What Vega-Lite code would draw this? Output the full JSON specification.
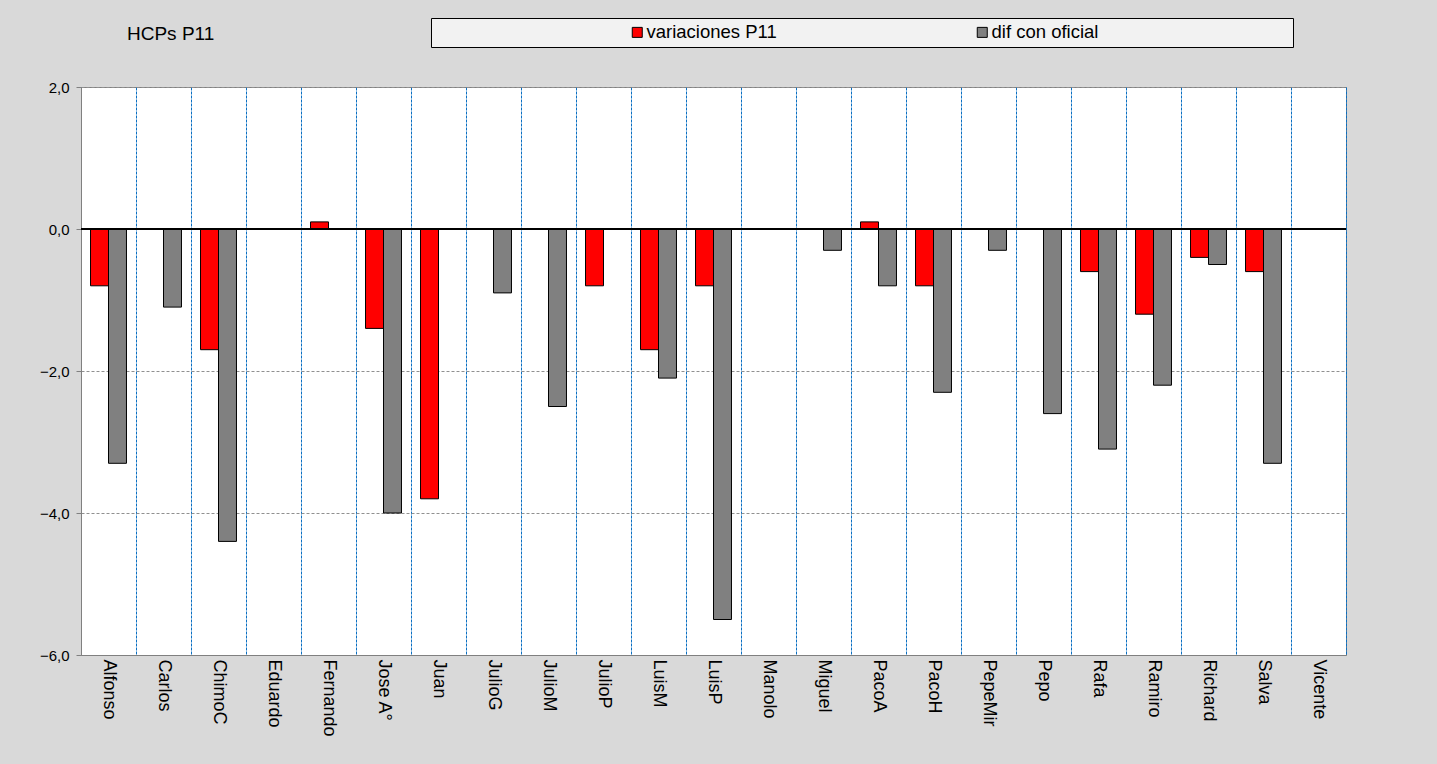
{
  "$schema": "https://vega.github.io/schema/vega-lite/v6.json",
  "width": 1265,
  "height": 568,
  "autosize": {"type": "none"},
  "padding": {"left": 81, "top": 87, "right": 91, "bottom": 109},
  "background": "#d9d9d9",
  "config": {
    "font": "Liberation Sans",
    "view": {"fill": "white", "stroke": "#808080", "strokeWidth": 1}
  },
  "title": {
    "text": "HCPs P11",
    "anchor": "start",
    "frame": "group",
    "dx": 46,
    "offset": -41,
    "baseline": "alphabetic",
    "fontSize": 19,
    "fontWeight": "normal",
    "color": "black",
    "font": "Liberation Sans"
  },
  "data": {
    "values": [
      {"nombre": "Alfonso", "serie": "variaciones P11", "valor": -0.8},
      {"nombre": "Alfonso", "serie": "dif con oficial", "valor": -3.3},
      {"nombre": "Carlos", "serie": "dif con oficial", "valor": -1.1},
      {"nombre": "ChimoC", "serie": "variaciones P11", "valor": -1.7},
      {"nombre": "ChimoC", "serie": "dif con oficial", "valor": -4.4},
      {"nombre": "Fernando", "serie": "variaciones P11", "valor": 0.1},
      {"nombre": "Jose A°", "serie": "variaciones P11", "valor": -1.4},
      {"nombre": "Jose A°", "serie": "dif con oficial", "valor": -4.0},
      {"nombre": "Juan", "serie": "variaciones P11", "valor": -3.8},
      {"nombre": "JulioG", "serie": "dif con oficial", "valor": -0.9},
      {"nombre": "JulioM", "serie": "dif con oficial", "valor": -2.5},
      {"nombre": "JulioP", "serie": "variaciones P11", "valor": -0.8},
      {"nombre": "LuisM", "serie": "variaciones P11", "valor": -1.7},
      {"nombre": "LuisM", "serie": "dif con oficial", "valor": -2.1},
      {"nombre": "LuisP", "serie": "variaciones P11", "valor": -0.8},
      {"nombre": "LuisP", "serie": "dif con oficial", "valor": -5.5},
      {"nombre": "Miguel", "serie": "dif con oficial", "valor": -0.3},
      {"nombre": "PacoA", "serie": "variaciones P11", "valor": 0.1},
      {"nombre": "PacoA", "serie": "dif con oficial", "valor": -0.8},
      {"nombre": "PacoH", "serie": "variaciones P11", "valor": -0.8},
      {"nombre": "PacoH", "serie": "dif con oficial", "valor": -2.3},
      {"nombre": "PepeMir", "serie": "dif con oficial", "valor": -0.3},
      {"nombre": "Pepo", "serie": "dif con oficial", "valor": -2.6},
      {"nombre": "Rafa", "serie": "variaciones P11", "valor": -0.6},
      {"nombre": "Rafa", "serie": "dif con oficial", "valor": -3.1},
      {"nombre": "Ramiro", "serie": "variaciones P11", "valor": -1.2},
      {"nombre": "Ramiro", "serie": "dif con oficial", "valor": -2.2},
      {"nombre": "Richard", "serie": "variaciones P11", "valor": -0.4},
      {"nombre": "Richard", "serie": "dif con oficial", "valor": -0.5},
      {"nombre": "Salva", "serie": "variaciones P11", "valor": -0.6},
      {"nombre": "Salva", "serie": "dif con oficial", "valor": -3.3}
    ]
  },
  "layer": [
    {
      "mark": {"type": "bar", "stroke": "black", "strokeWidth": 1},
      "encoding": {
        "x": {
          "field": "nombre",
          "type": "nominal",
          "sort": null,
          "scale": {
            "domain": ["Alfonso", "Carlos", "ChimoC", "Eduardo", "Fernando", "Jose A°", "Juan", "JulioG", "JulioM", "JulioP", "LuisM", "LuisP", "Manolo", "Miguel", "PacoA", "PacoH", "PepeMir", "Pepo", "Rafa", "Ramiro", "Richard", "Salva", "Vicente"],
            "paddingInner": 0,
            "paddingOuter": 0
          },
          "axis": {
            "title": null,
            "labelAngle": 90,
            "labelAlign": "left",
            "labelBaseline": "middle",
            "labelPadding": 4,
            "labelFontSize": 18,
            "labelColor": "black",
            "ticks": false,
            "domainColor": "#808080",
            "grid": true,
            "tickBand": "extent",
            "gridColor": "#0a6fc2",
            "gridDash": [3, 1],
            "gridWidth": 1
          }
        },
        "xOffset": {
          "field": "serie",
          "type": "nominal",
          "scale": {"domain": ["variaciones P11", "dif con oficial"], "paddingInner": 0, "paddingOuter": 0.53}
        },
        "y": {
          "field": "valor",
          "type": "quantitative",
          "scale": {"domain": [-6, 2], "nice": false, "zero": false},
          "axis": {
            "title": null,
            "values": [-6, -4, -2, 0, 2],
            "labelExpr": "replace(format(datum.value, '.1f'), '.', ',')",
            "labelFontSize": 15,
            "labelColor": "black",
            "labelPadding": 7,
            "tickSize": 5,
            "tickColor": "#808080",
            "domainColor": "#808080",
            "gridColor": "#909090",
            "gridDash": [3, 2]
          }
        },
        "color": {
          "field": "serie",
          "type": "nominal",
          "scale": {"domain": ["variaciones P11", "dif con oficial"], "range": ["#ff0000", "#808080"]},
          "legend": {
            "orient": "none",
            "legendX": 350,
            "legendY": -69,
            "direction": "horizontal",
            "title": "\u00a0",
            "titleOrient": "right",
            "titlePadding": 190,
            "titleFontSize": 18,
            "fillColor": "#f2f2f2",
            "strokeColor": "black",
            "padding": 5,
            "symbolType": "square",
            "symbolSize": 100,
            "symbolStrokeColor": "black",
            "symbolStrokeWidth": 1,
            "symbolOffset": 192,
            "labelOffset": 0,
            "labelFontSize": 18.5,
            "labelColor": "black",
            "columnPadding": 4
          }
        }
      }
    },
    {
      "mark": {"type": "rule", "color": "black", "strokeWidth": 1},
      "encoding": {"y": {"datum": 0}}
    }
  ]
}
